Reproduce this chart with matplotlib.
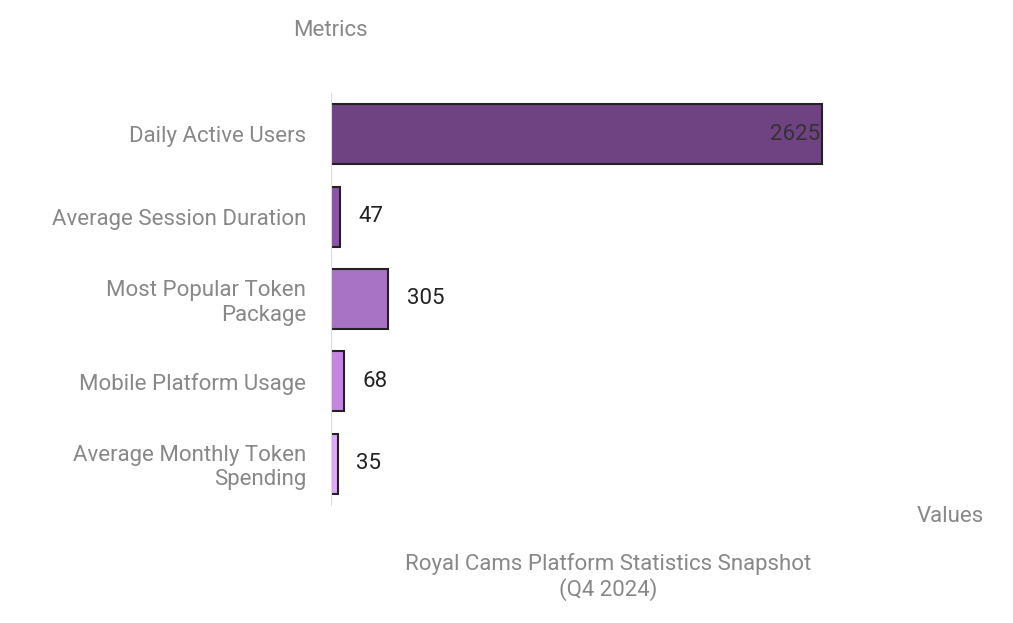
import matplotlib
matplotlib.use("Agg")
import matplotlib.pyplot as plt

categories = ["Daily Active Users", "Average Session Duration", "Most Popular Token\nPackage",
              "Mobile Platform Usage", "Average Monthly Token\nSpending"]
values = [2625, 47, 305, 68, 35]
colors = ["#6f4282", "#8a55a6", "#a873c4", "#c486e0", "#deaaf5"]

plt.rcParams["font.family"] = "Roboto"
fig = plt.figure(figsize=(10.13, 6.23), dpi=100)
ax = fig.add_axes([331/1013, 1-505/623, 654/1013, 412/623])

y = list(range(len(values)))
ax.barh(y, values, height=0.73, color=colors, edgecolor="#222222", linewidth=1.5)
ax.set_ylim(4.5, -0.5)
ax.set_xlim(0, 3496)
for i, v in enumerate(values):
    if v > 1000:
        ax.text(v - 10, i, str(v), ha="right", va="center", fontsize=16, color="#333333")
    else:
        ax.text(v + 100, i, str(v), ha="left", va="center", fontsize=16, color="#222222")

ax.set_yticks(y)
ax.set_yticklabels(categories, fontsize=16, color="#888888")
ax.tick_params(axis="y", length=0, pad=18)
ax.set_xticks([])
for s in ["top", "right", "bottom"]:
    ax.spines[s].set_visible(False)
ax.spines["left"].set_color("#dddddd")

fig.text(330/1013, 1-30/623, "Metrics", ha="center", va="center", fontsize=16, color="#888888")
fig.text(984/1013, 1-517/623, "Values", ha="right", va="center", fontsize=16, color="#888888")
fig.text(608/1013, 1-577/623, "Royal Cams Platform Statistics Snapshot\n(Q4 2024)",
         ha="center", va="center", fontsize=16, color="#888888")

fig.savefig("out.png", dpi=100)
